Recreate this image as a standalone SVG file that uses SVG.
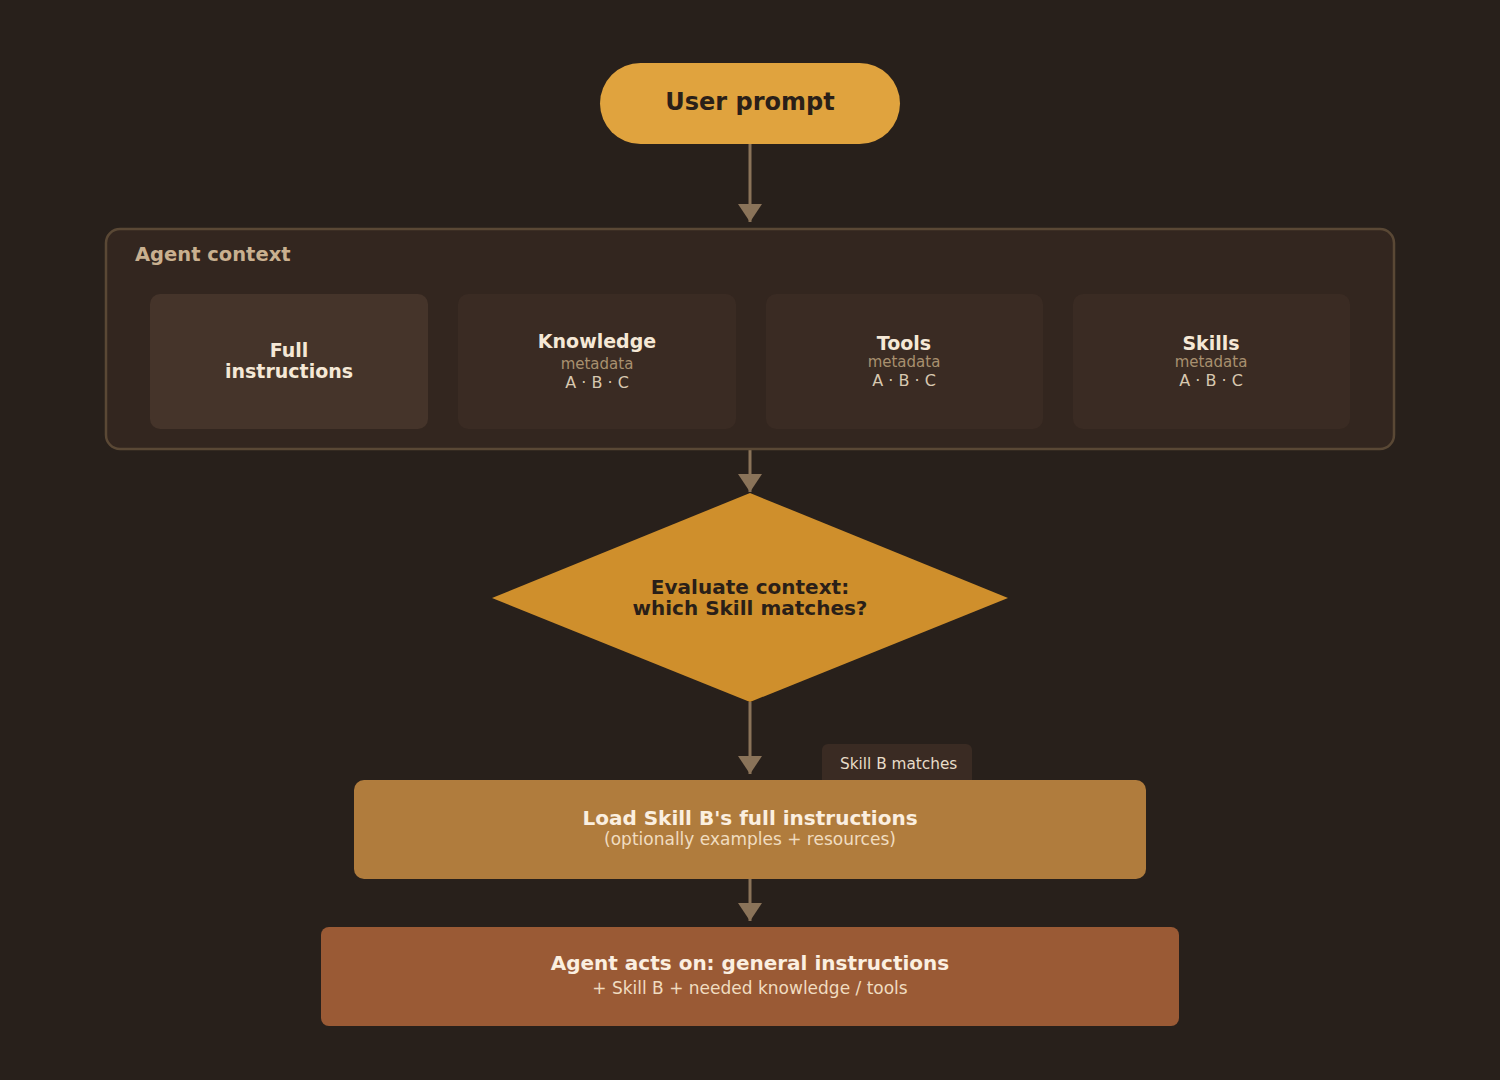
<svg xmlns="http://www.w3.org/2000/svg" width="1500" height="1080" viewBox="0 0 1500 1080">
<style>
text{font-family:"DejaVu Sans","Liberation Sans",sans-serif;text-anchor:middle}
.b{font-weight:bold}
.lt{fill:#f5e8d6;font-size:19px;font-weight:bold}
.meta{fill:#a8906f;font-size:15px}
.abc{fill:#d8c8b0;font-size:16px}
.edge{stroke:#8a7359;stroke-width:3;fill:none}
</style>
<defs>
<marker id="ah" viewBox="0 0 18 24" refX="18" refY="12" markerWidth="18" markerHeight="24" markerUnits="userSpaceOnUse" orient="auto">
<path d="M0,0 L18,12 L0,24 Z" fill="#8a7359"/>
</marker>
</defs>
<rect width="1500" height="1080" fill="#28201b"/>
<g id="connectors">
<line class="edge" x1="750" y1="144" x2="750" y2="222" marker-end="url(#ah)"/>
<line class="edge" x1="750" y1="449" x2="750" y2="492" marker-end="url(#ah)"/>
<line class="edge" x1="750" y1="702" x2="750" y2="774" marker-end="url(#ah)"/>
<line class="edge" x1="750" y1="879" x2="750" y2="921" marker-end="url(#ah)"/>
</g>
<g id="user-prompt">
<rect x="600" y="63" width="300" height="81" rx="40.5" fill="#e0a33e"/>
<text x="750" y="110" class="b" font-size="24" fill="#2a1f18">User prompt</text>
</g>
<g id="agent-context">
<rect x="106" y="229" width="1288" height="220" rx="14" fill="#33261f" stroke="#5a4835" stroke-width="2.5"/>
<text x="135" y="261" class="b" font-size="19.5" fill="#c9b08f" style="text-anchor:start">Agent context</text>
</g>
<g id="full-instructions">
<rect x="150" y="294" width="278" height="135" rx="10" fill="#45342a"/>
<text x="289" y="357" class="lt">Full</text>
<text x="289" y="378" class="lt">instructions</text>
</g>
<g id="knowledge">
<rect x="458" y="294" width="278" height="135" rx="10" fill="#3a2b23"/>
<text x="597" y="348" class="lt">Knowledge</text>
<text x="597" y="369" class="meta">metadata</text>
<text x="597" y="388" class="abc">A · B · C</text>
</g>
<g id="tools">
<rect x="766" y="294" width="277" height="135" rx="10" fill="#3a2b23"/>
<text x="904" y="350" class="lt">Tools</text>
<text x="904" y="367" class="meta">metadata</text>
<text x="904" y="386" class="abc">A · B · C</text>
</g>
<g id="skills">
<rect x="1073" y="294" width="277" height="135" rx="10" fill="#3a2b23"/>
<text x="1211" y="350" class="lt">Skills</text>
<text x="1211" y="367" class="meta">metadata</text>
<text x="1211" y="386" class="abc">A · B · C</text>
</g>
<g id="evaluate">
<polygon points="750,493 1008,598 750,702 492,598" fill="#cf8f2c"/>
<text x="750" y="594" class="b" font-size="20" fill="#2a1f18">Evaluate context:</text>
<text x="750" y="615" class="b" font-size="20" fill="#2a1f18">which Skill matches?</text>
</g>
<g id="skill-b-label">
<rect x="822" y="744" width="150" height="42" rx="6" fill="#3a2b23"/>
<text x="840" y="769" font-size="15.3" fill="#e8dcc8" style="text-anchor:start">Skill B matches</text>
</g>
<g id="load-skill">
<rect x="354" y="780" width="792" height="99" rx="10" fill="#b07c3d"/>
<text x="750" y="825" class="b" font-size="20" fill="#fbefe0">Load Skill B's full instructions</text>
<text x="750" y="845" font-size="17" fill="#f0dcc0">(optionally examples + resources)</text>
</g>
<g id="agent-acts">
<rect x="321" y="927" width="858" height="99" rx="8" fill="#9a5a35"/>
<text x="750" y="970" class="b" font-size="20" fill="#fbefe0">Agent acts on: general instructions</text>
<text x="750" y="994" font-size="17" fill="#f0dcc0">+ Skill B + needed knowledge / tools</text>
</g>
</svg>
